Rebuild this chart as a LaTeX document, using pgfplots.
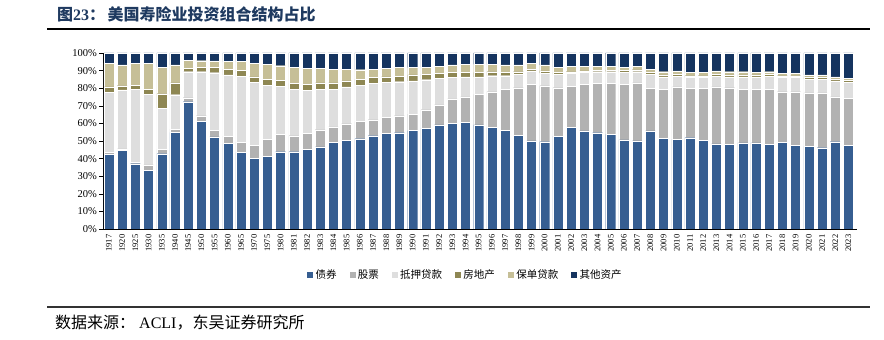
\documentclass[border=0pt]{standalone}
\usepackage{pgfplots}
\usepackage{pgfplotstable}
\pgfplotsset{compat=1.18}
\usepackage{fontspec}
\setmainfont{Liberation Serif}
\newfontfamily\cjk{Noto Sans CJK SC}
\definecolor{cBond}{HTML}{365E91}
\definecolor{cStock}{HTML}{B2B2B2}
\definecolor{cMort}{HTML}{DEDEDE}
\definecolor{cRE}{HTML}{8E8753}
\definecolor{cPol}{HTML}{C6BF97}
\definecolor{cOth}{HTML}{15345F}
\definecolor{cTitle}{HTML}{1F3A60}
\pgfplotstableread{
x year bond stock mort re pol oth
0 1917 42.4 1.2 33.9 3.2 13.6 5.7
1 1920 44.7 0.8 33.5 2.4 11.8 6.8
2 1925 37.1 0.6 41.7 2.4 12.5 5.7
3 1930 33.5 2.9 40.1 3.0 14.8 5.7
4 1935 42.8 2.5 23.3 8.3 15.1 8.0
5 1940 54.9 1.9 19.5 6.7 10.2 6.8
6 1945 72.3 2.3 14.8 1.9 4.5 4.2
7 1950 61.0 3.4 25.0 2.5 3.7 4.4
8 1955 52.3 3.8 32.7 3.1 3.6 4.5
9 1960 48.5 4.2 34.8 3.4 4.2 4.9
10 1965 43.6 5.6 37.7 3.3 4.9 4.9
11 1970 40.2 7.5 35.6 3.1 7.9 5.7
12 1975 41.3 9.5 31.0 3.4 8.4 6.4
13 1980 43.9 9.9 27.3 3.2 8.5 7.2
14 1981 43.9 9.1 26.4 3.4 9.2 8.0
15 1982 45.1 9.4 24.3 3.4 9.1 8.7
16 1983 46.6 9.8 23.1 3.5 8.3 8.7
17 1984 49.2 8.8 21.5 3.5 7.9 9.1
18 1985 50.4 9.4 20.9 3.4 6.8 9.1
19 1986 51.3 9.7 20.8 3.4 5.3 9.5
20 1987 53.0 9.1 20.5 3.4 4.9 9.1
21 1988 54.4 8.9 20.0 3.1 4.9 8.7
22 1989 54.7 9.7 19.3 3.0 5.0 8.3
23 1990 55.9 9.3 18.9 3.4 4.2 8.3
24 1991 57.2 10.6 17.0 3.1 4.1 8.0
25 1992 59.1 11.4 15.1 2.7 4.1 7.6
26 1993 60.0 13.9 12.1 3.0 4.2 6.8
27 1994 60.6 14.4 11.4 2.6 4.6 6.4
28 1995 59.1 17.4 9.9 2.6 4.6 6.4
29 1996 57.6 20.4 9.1 2.3 4.2 6.4
30 1997 55.9 23.3 7.9 1.9 4.2 6.8
31 1998 53.4 26.9 7.6 1.5 3.8 6.8
32 1999 50.0 32.2 7.6 1.1 3.4 5.7
33 2000 49.6 31.8 7.2 1.2 3.4 6.8
34 2001 52.7 27.6 7.6 1.1 3.0 8.0
35 2002 57.6 23.5 7.2 1.1 3.0 7.6
36 2003 55.7 26.5 6.8 0.8 2.6 7.6
37 2004 54.7 27.9 6.8 0.8 2.2 7.6
38 2005 53.8 28.8 6.8 0.8 2.2 7.6
39 2006 50.6 31.6 6.8 1.2 1.8 8.0
40 2007 50.0 33.0 6.4 1.1 1.9 7.6
41 2008 55.7 24.2 8.0 1.1 1.9 9.1
42 2009 51.5 28.0 6.9 1.1 1.9 10.6
43 2010 51.1 29.6 6.0 1.2 1.9 10.2
44 2011 51.9 28.0 6.1 1.1 1.9 11.0
45 2012 50.4 29.5 6.1 1.1 1.9 11.0
46 2013 48.3 32.4 6.0 1.2 1.9 10.2
47 2014 48.1 32.2 6.1 1.1 1.9 10.6
48 2015 48.9 30.6 6.9 1.1 1.9 10.6
49 2016 48.9 30.3 7.2 1.1 1.5 11.0
50 2017 48.1 31.4 7.2 1.2 1.5 10.6
51 2018 49.2 28.8 8.0 1.1 1.5 11.4
52 2019 47.7 30.3 8.0 1.1 1.5 11.4
53 2020 47.0 30.3 7.9 1.2 1.1 12.5
54 2021 46.2 31.1 7.9 1.2 1.1 12.5
55 2022 49.6 25.4 9.1 1.1 1.2 13.6
56 2023 47.7 26.5 9.1 1.2 1.1 14.4
}\data
\begin{document}
\begin{tikzpicture}
\path[use as bounding box] (0pt,0pt) rectangle (884pt,340pt);
% title and rules
\node[anchor=west,text=cTitle,font=\fontsize{16}{18}\selectfont\bfseries,inner sep=0pt] at (57pt,326pt) {{\cjk 图}23{\cjk ：}\hspace{0.15em}{\cjk 美国寿险业投资组合结构占比}};
\draw[line width=1.1pt,black] (47pt,311pt) -- (870pt,311pt);
\draw[line width=1.4pt,black!80] (47pt,33pt) -- (870pt,33pt);
\node[anchor=west,font=\fontsize{16}{18}\selectfont,inner sep=0pt] at (55pt,17pt) {{\cjk 数据来源：}\hspace{0.25em}ACLI{\cjk ，东吴证券研究所}};
\begin{axis}[
  at={(103pt,111pt)}, anchor=south west,
  scale only axis, width=754pt, height=176pt,
  ybar stacked, bar width=10pt,
  xmin=-0.45, xmax=56.65, ymin=0, ymax=100,
  axis x line*=bottom, axis y line*=left,
  axis line style={black, line width=0.6pt},
  xtick={0,...,56},
  xticklabels from table={\data}{year},
  x tick label style={rotate=90, anchor=east, font=\fontsize{8.5}{9}\selectfont, inner sep=1.5pt},
  major x tick style={draw=none},
  extra x ticks={-0.5,0.5,...,56.5},
  extra x tick labels={},
  extra x tick style={tick style={black, line width=0.5pt}, major tick length=4pt},
  ytick={0,10,...,100},
  yticklabel={\pgfmathprintnumber{\tick}\%},
  y tick label style={font=\fontsize{10.5}{11}\selectfont, inner sep=2pt},
  y tick style={black, line width=0.5pt},
  tick align=outside, major tick length=4pt,
  /pgf/number format/assume math mode=true,
  legend columns=6,
  legend style={at={(0.48,-0.26)}, anchor=center, draw=none, fill=none,
    font=\cjk\fontsize{10.5}{12}\selectfont,
    /tikz/every even column/.append style={column sep=10pt}},
  legend cell align=left,
  legend image code/.code={\fill[#1] (0pt,-3.5pt) rectangle (7pt,3.5pt);},
  every axis plot/.append style={draw=white, line width=0.3pt},
]
\addplot[fill=cBond] table[x=x,y=bond]{\data};
\addplot[fill=cStock] table[x=x,y=stock]{\data};
\addplot[fill=cMort] table[x=x,y=mort]{\data};
\addplot[fill=cRE] table[x=x,y=re]{\data};
\addplot[fill=cPol] table[x=x,y=pol]{\data};
\addplot[fill=cOth] table[x=x,y=oth]{\data};
\legend{债券,股票,抵押贷款,房地产,保单贷款,其他资产}
\end{axis}
\end{tikzpicture}
\end{document}
